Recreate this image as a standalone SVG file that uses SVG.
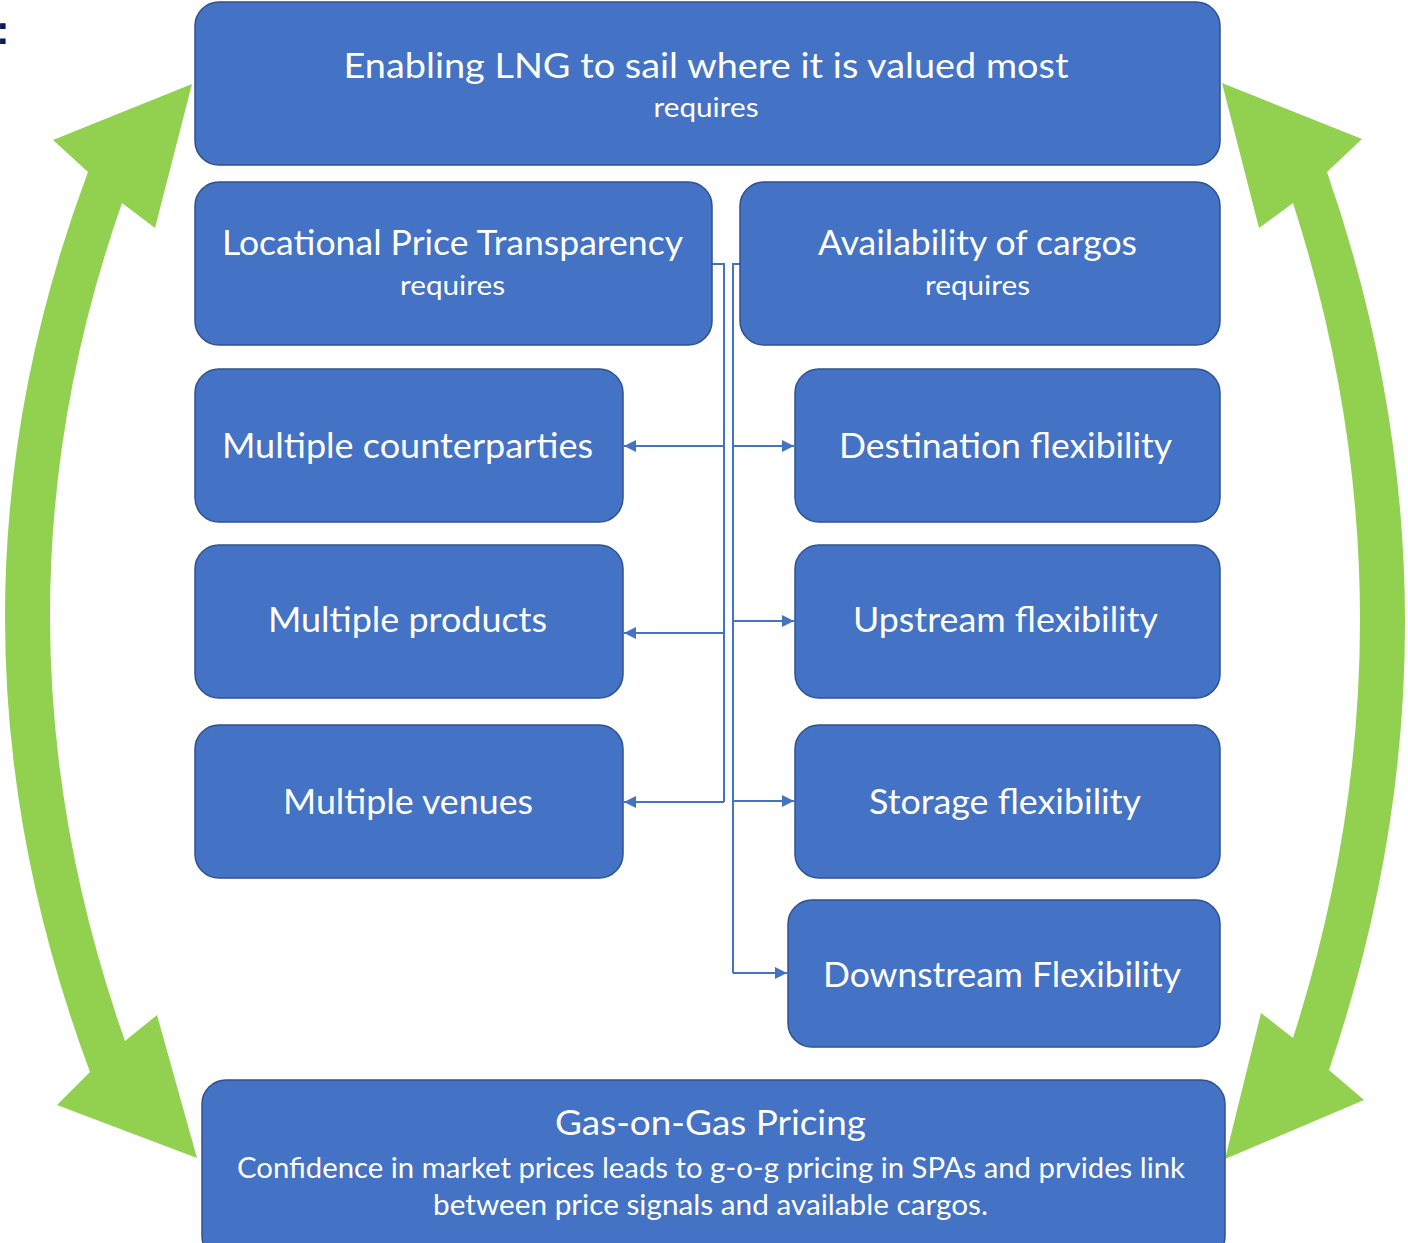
<svg xmlns="http://www.w3.org/2000/svg" width="1408" height="1243" viewBox="0 0 1408 1243">
<defs>
<style>
.box{fill:#4472C4;stroke:#2F528F;stroke-width:1.5}
.t{fill:#FFFFFF;font-family:Lato,"Open Sans","Liberation Sans",sans-serif;text-anchor:middle}
.big{font-size:34px}
.small{font-size:26px}
.mid{font-size:28px}
.conn{fill:none;stroke:#4472C4;stroke-width:2}
.green{fill:#92D050}
</style>
<marker id="ah" viewBox="0 0 10 10" refX="10" refY="5" markerWidth="12" markerHeight="12" markerUnits="userSpaceOnUse" orient="auto">
<path d="M0,0 L10,5 L0,10 Z" fill="#4472C4"/>
</marker>
</defs>
<rect width="1408" height="1243" fill="#FFFFFF"/>
<text x="-4" y="44" font-family="Liberation Sans,sans-serif" font-weight="bold" font-size="40" fill="#002060">:</text>

<g id="green-arrows">
<path class="green" d="M192,84 L53,140 L88,172 Q-79,618 90,1072 L57,1105 L197,1158 L157,1015 L125,1041 Q-23.5,618 122,203 L155,228 Z"/>
<path class="green" d="M1222,83 L1362,139 L1327,172 Q1482,619 1329,1070 L1364,1100 L1225,1159 L1261,1013 L1293,1038 Q1427,620 1293,203 L1259,228 Z"/>
</g>

<g id="connectors">
<path class="conn" d="M712,264 L724,264 L724,802"/>
<path class="conn" d="M724,446 L624,446" marker-end="url(#ah)"/>
<path class="conn" d="M724,633 L624,633" marker-end="url(#ah)"/>
<path class="conn" d="M724,802 L624,802" marker-end="url(#ah)"/>
<path class="conn" d="M740,264 L733,264 L733,973"/>
<path class="conn" d="M733,446 L794,446" marker-end="url(#ah)"/>
<path class="conn" d="M733,621 L794,621" marker-end="url(#ah)"/>
<path class="conn" d="M733,801 L794,801" marker-end="url(#ah)"/>
<path class="conn" d="M733,973 L787,973" marker-end="url(#ah)"/>
</g>

<g id="node-top">
<rect class="box" x="195" y="2" width="1025" height="163" rx="24"/>
<text class="t big" x="706" y="78" textLength="725" lengthAdjust="spacingAndGlyphs">Enabling LNG to sail where it is valued most</text>
<text class="t small" x="706" y="117" textLength="105" lengthAdjust="spacingAndGlyphs">requires</text>
</g>

<g id="node-locational">
<rect class="box" x="195" y="182" width="517" height="163" rx="24"/>
<text class="t big" x="452.5" y="255" textLength="461" lengthAdjust="spacingAndGlyphs">Locational Price Transparency</text>
<text class="t small" x="452.5" y="295" textLength="105" lengthAdjust="spacingAndGlyphs">requires</text>
</g>

<g id="node-availability">
<rect class="box" x="740" y="182" width="480" height="163" rx="24"/>
<text class="t big" x="977.5" y="255" textLength="319" lengthAdjust="spacingAndGlyphs">Availability of cargos</text>
<text class="t small" x="977.5" y="295" textLength="105" lengthAdjust="spacingAndGlyphs">requires</text>
</g>

<g id="node-counterparties">
<rect class="box" x="195" y="369" width="428" height="153" rx="24"/>
<text class="t big" x="407.5" y="458" textLength="371" lengthAdjust="spacingAndGlyphs">Multiple counterparties</text>
</g>

<g id="node-products">
<rect class="box" x="195" y="545" width="428" height="153" rx="24"/>
<text class="t big" x="407.5" y="632" textLength="279" lengthAdjust="spacingAndGlyphs">Multiple products</text>
</g>

<g id="node-venues">
<rect class="box" x="195" y="725" width="428" height="153" rx="24"/>
<text class="t big" x="408" y="814" textLength="250" lengthAdjust="spacingAndGlyphs">Multiple venues</text>
</g>

<g id="node-destination">
<rect class="box" x="795" y="369" width="425" height="153" rx="24"/>
<text class="t big" x="1005.5" y="458" textLength="333" lengthAdjust="spacingAndGlyphs">Destination flexibility</text>
</g>

<g id="node-upstream">
<rect class="box" x="795" y="545" width="425" height="153" rx="24"/>
<text class="t big" x="1005.5" y="632" textLength="305" lengthAdjust="spacingAndGlyphs">Upstream flexibility</text>
</g>

<g id="node-storage">
<rect class="box" x="795" y="725" width="425" height="153" rx="24"/>
<text class="t big" x="1005" y="814" textLength="272" lengthAdjust="spacingAndGlyphs">Storage flexibility</text>
</g>

<g id="node-downstream">
<rect class="box" x="788" y="900" width="432" height="147" rx="24"/>
<text class="t big" x="1002" y="987" textLength="358" lengthAdjust="spacingAndGlyphs">Downstream Flexibility</text>
</g>

<g id="node-gog">
<rect class="box" x="202" y="1080" width="1023" height="180" rx="24"/>
<text class="t big" x="710.5" y="1135" textLength="311" lengthAdjust="spacingAndGlyphs">Gas-on-Gas Pricing</text>
<text class="t mid" x="711" y="1178" textLength="948" lengthAdjust="spacingAndGlyphs">Confidence in market prices leads to g-o-g pricing in SPAs and prvides link</text>
<text class="t mid" x="710.5" y="1215" textLength="555" lengthAdjust="spacingAndGlyphs">between price signals and available cargos.</text>
</g>
</svg>
